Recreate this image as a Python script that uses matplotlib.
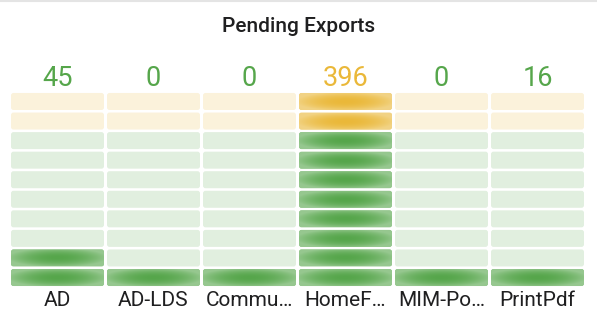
import numpy as np
import matplotlib
matplotlib.use("Agg")
import matplotlib.pyplot as plt
from matplotlib.patches import FancyBboxPatch
from matplotlib.colors import to_rgb

plt.rcParams['font.family'] = ['Roboto', 'DejaVu Sans']

title = "Pending Exports"
categories = ["AD", "AD-LDS", "Commu…", "HomeF…", "MIM-Po…", "PrintPdf"]
values = [45, 0, 0, 396, 0, 16]

gauge_min = 0
gauge_max = 400
warn_threshold = 300
cell_count = 10

GREEN = "#56A64B"
YELLOW = "#EAB839"
DIM_ALPHA = 0.18
EDGE_FADE = 0.38

W, H = 597, 326
fig = plt.figure(figsize=(W / 100, H / 100), dpi=100)

# thin panel border line along the top
fig.add_artist(plt.Line2D([0, 1], [1 - 1 / H, 1 - 1 / H], color="#e4e4e4", lw=1.5))

# grid geometry in pixels
col_pitch, cell_w = 96, 93
row_pitch, cell_h = 19.56, 17.0
grid_left = 9.5
grid_bottom = H - 287.3
ax = fig.add_axes([grid_left / W, grid_bottom / H,
                   col_pitch * len(categories) / W, row_pitch * cell_count / H])
ax.set_xlim(-0.5, len(categories) - 0.5)
ax.set_ylim(-0.5, cell_count - 0.5)
ax.axis("off")

cw = cell_w / col_pitch
ch = cell_h / row_pitch
aspect = col_pitch / row_pitch
radius = 2.5 / col_pitch


def blend(color, a):
    c = np.array(to_rgb(color))
    return tuple(1 - a * (1 - c))


def glow(color, nx=120, ny=30):
    # saturated centre fading to a lighter edge
    c = np.array(to_rgb(color))
    xs = np.linspace(-1, 1, nx)
    ys = np.linspace(-1, 1, ny)
    X, Y = np.meshgrid(xs, ys)
    d = np.sqrt(0.85 * X ** 2 + 0.75 * Y ** 2)
    t = np.clip(EDGE_FADE * d ** 2, 0, EDGE_FADE)[..., None]
    return c * (1 - t) + t


step = (gauge_max - gauge_min) / cell_count
for i, v in enumerate(values):
    for j in range(cell_count):
        start = gauge_min + j * step
        color = YELLOW if start >= warn_threshold else GREEN
        lit = v >= start
        x0, y0 = i - cw / 2, j - ch / 2
        fc = blend(color, 1 - EDGE_FADE) if lit else blend(color, DIM_ALPHA)
        patch = FancyBboxPatch((x0, y0), cw, ch,
                               boxstyle=f"round,pad=0,rounding_size={radius}",
                               mutation_aspect=aspect, lw=0, fc=fc)
        ax.add_patch(patch)
        if lit:
            im = ax.imshow(glow(color), extent=(x0, x0 + cw, y0, y0 + ch),
                           origin="lower", aspect="auto", interpolation="bilinear",
                           zorder=2)
            im.set_clip_path(patch)

    vcolor = YELLOW if v >= warn_threshold else GREEN
    fig.text((grid_left + col_pitch * (i + 0.5)) / W, 1 - 79 / H, f"{v}",
             ha="center", va="center", fontsize=19.5, color=vcolor)
    fig.text((grid_left + col_pitch * (i + 0.5)) / W, 1 - 301 / H, categories[i],
             ha="center", va="center", fontsize=15, color="#1f1f20")

fig.text(0.5, 1 - 27 / H, title, ha="center", va="center",
         fontsize=15, fontweight="medium", color="#1f1f20")

fig.savefig("out.png", dpi=100, facecolor="white")
